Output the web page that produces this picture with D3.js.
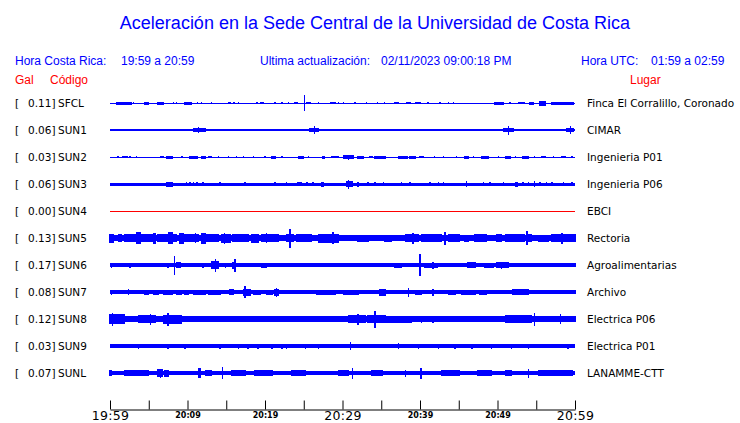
<!DOCTYPE html>
<html><head><meta charset="utf-8">
<script src="https://cdn.jsdelivr.net/npm/d3@7"></script>
<style>
html,body{margin:0;padding:0;background:#fff;}
svg{display:block;}
</style></head>
<body>
<script>
// ---------------- DATA ----------------
const stations = ["SFCL","SUN1","SUN2","SUN3","SUN4","SUN5","SUN6","SUN7","SUN8","SUN9","SUNL"];
const peakGal  = [0.11,0.06,0.03,0.06,0.00,0.13,0.17,0.08,0.12,0.03,0.07];
const places   = ["Finca El Corralillo, Coronado","CIMAR","Ingenieria P01","Ingenieria P06","EBCI","Rectoria","Agroalimentarias","Archivo","Electrica P06","Electrica P01","LANAMME-CTT"];
// background noise half-amplitude for each trace (arbitrary amplitude units)
const baseAmp  = [0.5,0.6,0.5,1.5,0,3.2,1.7,1.7,2.6,1.7,2.4];
// minutes after 19:59
const timeStart = "19:59", timeEnd = "20:59";
const tickMinutes = [0,5,10,15,20,25,30,35,40,45,50,55,60];
const tickLabels  = ["19:59","","20:09","","20:19","","20:29","","20:39","","20:49","","20:59"];
const bigLabels   = ["19:59","20:29","20:59"];

// bursts: [start minute, end minute, half amplitude]
const burstsSFCL = [[0.9,2.8,1.5],[3.0,3.0,1],[4.5,4.9,1.5],[6.2,6.9,1.5],[8.2,8.2,1],[8.6,8.6,1],[9.7,10.5,1.5],[11.3,11.3,1],[11.8,11.8,1],[13.1,13.1,1],[15.3,15.5,1],[16.0,16.0,1],[16.6,16.6,1.2],[18.9,19.0,1],[19.5,19.8,1],[21.3,21.3,1],[22.2,22.2,1],[23.0,23.0,1],[23.9,24.2,1.2],[25.1,25.1,8],[25.4,25.8,1.2],[26.9,26.9,1],[28.5,29.0,1.2],[29.5,29.5,1],[30.1,30.1,1],[31.6,31.6,1.2],[33.1,33.1,1],[34.5,34.5,1.2],[35.4,35.4,1],[36.8,37.2,1.2],[38.3,38.7,1.2],[39.4,40.0,1.2],[41.0,41.0,1],[42.6,42.6,1.2],[43.7,43.7,1],[44.3,44.3,1],[49.7,50.8,1.5],[51.6,51.6,1],[52.7,53.5,1.2],[54.2,54.6,1.5],[55.5,56.1,2.5],[57.0,59.8,1.5]];
const burstsSUN1 = [[0.1,1.1,1.4],[1.5,2.6,1.4],[2.8,3.2,1.3],[3.7,4.3,1.3],[4.7,6.0,1.4],[7.1,10.8,1.4],[10.8,12.3,2.0],[11.4,11.4,3],[12.3,15.3,1.4],[15.7,16.6,1.3],[17.4,20.4,1.4],[20.9,21.3,1.3],[22.6,24.3,1.4],[24.7,27.7,1.4],[25.8,26.9,2.2],[26.4,26.4,4],[29.0,30.3,1.4],[30.8,32.0,1.4],[32.9,33.8,1.4],[34.2,35.1,1.4],[36.8,38.1,1.4],[38.5,39.6,1.4],[40.0,40.9,1.4],[41.3,42.4,1.4],[42.8,43.4,1.4],[44.1,44.9,1.4],[45.4,46.7,1.4],[47.3,48.8,1.3],[49.5,50.5,1.4],[50.8,52.0,2.0],[51.4,51.4,4.5],[52.7,54.4,1.3],[54.8,57.0,1.3],[57.4,58.7,1.4],[58.9,59.8,2.0],[59.4,59.4,4]];
const burstsSUN2 = [[1.0,1.0,1.3],[1.7,2.2,1.3],[2.6,2.6,1.3],[3.4,3.4,1.3],[6.5,6.9,1.3],[7.3,8.0,1.5],[9.3,9.3,1.3],[10.3,11.2,1.5],[11.8,12.3,1.5],[12.8,13.1,1.3],[14.0,14.0,1.3],[15.3,15.3,1.3],[16.3,16.3,1.3],[17.2,17.2,1.3],[18.5,18.5,1.3],[20.0,20.0,1.3],[20.9,21.3,1.5],[22.2,22.2,1.3],[24.3,24.9,1.5],[25.6,25.6,1.3],[27.5,27.7,1.5],[28.6,29.5,1.3],[30.1,31.4,1.7],[30.8,30.8,2.5],[32.0,32.7,1.5],[33.5,33.8,1.3],[34.2,35.5,1.5],[37.2,38.3,1.5],[38.7,39.4,1.5],[40.0,40.4,1.3],[41.9,41.9,1.3],[43.0,43.0,1.3],[44.7,44.7,1.3],[45.8,46.2,1.5],[46.9,46.9,1.3],[48.0,48.8,1.5],[50.1,50.1,1.3],[51.0,51.6,1.5],[52.3,52.3,1.3],[53.3,54.0,1.5],[54.8,54.8,1.3],[55.7,56.1,1.3],[57.2,57.2,1.3],[58.3,58.7,1.3],[59.6,59.6,1.3]];
const burstsSUN3 = [[7.3,8.0,2.5],[9.9,9.9,2.3],[10.3,10.3,2.3],[10.8,10.8,2.3],[11.2,11.2,2.3],[12.0,12.0,2.3],[14.2,14.2,2.3],[17.4,17.4,2.3],[21.3,21.3,2.3],[22.8,22.8,2.3],[24.2,24.7,2.3],[25.4,25.4,2.3],[26.2,26.2,2.3],[27.3,27.5,2.5],[30.5,31.2,3.2],[30.8,30.8,4.5],[32.0,32.0,2.5],[33.3,33.3,2.3],[34.2,34.2,2.3],[35.3,35.3,2.3],[37.6,37.6,2.3],[38.7,38.7,2.3],[41.3,41.3,2.3],[42.4,42.4,2.3],[43.0,43.0,2.3],[46.0,46.0,3.3],[48.2,48.2,2.3],[49.0,49.0,2.3],[50.8,50.8,2.3],[52.3,52.5,2.5],[53.3,53.3,2.3],[54.0,54.0,2.3],[54.8,54.8,3],[55.5,55.5,2.3],[56.3,56.3,2.3],[57.0,57.0,2.3],[58.5,58.5,2.3],[59.6,59.6,2.3]];
const burstsSUN4 = [];
const burstsSUN5 = [[0,0.4,4.5],[1.1,1.5,4],[1.9,3.2,4],[3.4,3.9,6],[3.9,5.4,4.2],[5.6,5.8,5.5],[6.2,7.5,4],[7.6,8.0,6],[8.0,8.6,4.2],[9.0,9.5,5.5],[9.7,11.4,4.2],[11.0,11.0,5],[11.8,12.3,5.5],[12.3,14.0,4.2],[14.4,15.5,4.5],[14.8,14.8,5.5],[15.9,17.8,4.2],[18.3,19.1,4.5],[19.6,21.7,4],[20.2,20.2,5],[22.8,23.7,4.2],[23.2,23.2,9.5],[24.1,26.0,4.2],[26.9,29.5,4.5],[28.8,28.8,6],[32.0,33.3,3.5],[35.5,36.3,3.5],[38.1,39.8,4.2],[39.1,39.1,5.5],[40.2,42.8,4.2],[43.2,43.2,6.5],[43.7,45.0,4.2],[45.8,46.2,3.5],[47.1,48.6,4.2],[49.9,50.5,4],[51.0,53.5,4.2],[53.8,53.8,7],[54.0,54.4,4.2],[55.3,56.6,3.5],[57.0,60,4.2],[58.3,58.3,5.5]];
const burstsSUN6 = [[0.2,0.2,2.5],[2.6,2.6,2.5],[3.2,3.2,2.3],[4.0,4.0,2.3],[5.4,5.4,2.3],[7.0,7.0,2.3],[7.5,7.5,2.5],[8.3,8.3,9.5],[8.6,9.0,3],[12.0,12.0,2.5],[12.5,12.5,2.3],[13.1,14.0,4],[13.6,13.6,6.5],[14.9,14.9,2.5],[15.9,16.2,3.5],[16.1,16.1,6.5],[18.3,18.3,2.3],[19.6,20.2,2.5],[22.8,22.8,2.3],[24.1,24.1,2.3],[25.2,25.2,2.3],[26.2,26.2,2.3],[29.9,29.9,2.3],[30.5,30.5,2.3],[31.2,33.3,2.3],[34.5,35.0,2.3],[36.8,37.6,2.5],[38.5,38.5,2.3],[40.0,40.0,11],[40.6,42.2,2.5],[41.7,41.7,3.5],[44.5,44.5,2.3],[46.2,47.1,3],[48.4,49.5,2.5],[49.9,51.4,3],[50.5,50.5,3.5],[52.3,52.3,2.3],[53.5,55.7,2.2],[56.1,60,2.2]];
const burstsSUN7 = [[0.2,0.2,2.5],[2.4,2.4,3],[4.5,4.9,2.5],[5.6,6.2,2.5],[6.9,8.0,2.5],[8.6,9.2,2.5],[9.7,10.1,2.5],[10.8,12.3,2.5],[12.7,14.2,2.5],[15.5,15.9,3],[17.2,18.1,3.5],[17.4,17.4,6],[18.5,19.4,2.5],[20.2,20.9,2.5],[21.3,21.7,3.5],[21.5,21.5,4.5],[23.4,26.0,2.3],[26.7,29.0,2.5],[30.1,32.0,2.5],[34.8,35.5,3.5],[38.5,38.5,4.5],[39.4,40.2,2.5],[41.7,41.7,3.5],[43.7,44.5,2.5],[45.4,47.1,2.5],[47.7,48.6,2.5],[52.0,54.0,3],[54.6,60,2.3]];
const burstsSUN8 = [[0,1.9,5],[0.3,0.3,6.5],[1.9,3.7,3.3],[3.7,5.8,4.2],[5.2,5.2,5.5],[6.9,9.2,4.5],[7.5,7.5,6.5],[9.2,11.4,3.3],[12.3,14.0,3.3],[16.6,21.7,3],[22.6,26.0,3],[26.2,29.5,3.3],[30.8,32.9,4.2],[32.0,32.0,5.5],[33.3,35.5,4.2],[34.2,34.2,8.5],[35.5,38.9,3.5],[40.2,40.2,3.5],[41.7,41.7,3.5],[43.0,44.1,3.3],[45.4,48.8,3],[51.0,54.4,4],[54.8,54.8,6.5],[55.3,57.4,3],[58.1,58.1,5],[58.7,60,3.3]];
const burstsSUN9 = [[3.7,3.7,2.5],[7.5,7.5,2.5],[9.7,9.7,2.5],[14.2,14.2,2.5],[16.6,16.6,2.5],[17.8,17.8,2.5],[19.1,19.1,2.5],[20.9,20.9,2.5],[22.2,22.2,2.5],[22.8,22.8,2.5],[25.2,25.2,2.5],[26.9,26.9,2.5],[31.0,31.0,4],[37.2,37.2,3],[39.8,39.8,2.5],[42.4,42.4,2.5],[44.5,44.5,2.5],[46.7,46.7,2.5],[49.2,49.2,2.5],[51.8,51.8,2.5],[54.0,54.0,2.5],[59.1,59.1,2.5]];
const burstsSUNL = [[0,0.2,3],[1.9,4.9,3],[6.2,6.7,4],[6.5,6.5,4.5],[7.1,7.5,3.5],[11.4,11.6,5],[12.3,13.1,3],[14.5,14.5,6],[15.7,17.4,3],[18.7,20.9,3],[23.4,25.2,3],[29.5,30.8,3],[31.3,31.3,5.5],[33.8,35.1,3],[38.1,38.1,3.5],[40.1,40.1,5.5],[42.8,45.0,3],[47.5,49.2,3],[51.0,51.8,3],[54.0,54.0,4.5],[55.3,59.6,3]];
const bursts = [burstsSFCL,burstsSUN1,burstsSUN2,burstsSUN3,burstsSUN4,burstsSUN5,burstsSUN6,burstsSUN7,burstsSUN8,burstsSUN9,burstsSUNL];

// ---------------- DRAW ----------------
const W = 740, H = 423;
const blue = "#0000ff", red = "#ff0000";
const svg = d3.select("body").append("svg").attr("width", W).attr("height", H);

const x = d3.scaleLinear().domain([0, 60]).range([110, 575]);
const y = d3.scalePoint().domain(stations).range([103, 373]);
const amp = d3.scaleLinear().domain([0, 13.5]).range([0, 13.5]);

// title & headers
svg.append("text").attr("x", 375).attr("y", 29).attr("text-anchor", "middle")
  .attr("font-family", "Liberation Sans, Arial, sans-serif").attr("font-size", 18).attr("fill", blue)
  .text("Aceleración en la Sede Central de la Universidad de Costa Rica");

const hdr = svg.append("g").attr("font-family", "Liberation Sans, Arial, sans-serif").attr("font-size", 12).attr("fill", blue);
hdr.append("text").attr("x", 15).attr("y", 65).text("Hora Costa Rica:");
hdr.append("text").attr("x", 121).attr("y", 65).text(timeStart + " a " + timeEnd);
hdr.append("text").attr("x", 260).attr("y", 65).text("Ultima actualización:");
hdr.append("text").attr("x", 381).attr("y", 65).text("02/11/2023 09:00:18 PM");
hdr.append("text").attr("x", 581).attr("y", 65).text("Hora UTC:");
hdr.append("text").attr("x", 651).attr("y", 65).text("01:59 a 02:59");

const hdr2 = svg.append("g").attr("font-family", "Liberation Sans, Arial, sans-serif").attr("font-size", 12).attr("fill", red);
hdr2.append("text").attr("x", 15).attr("y", 84).text("Gal");
hdr2.append("text").attr("x", 50).attr("y", 84).text("Código");
hdr2.append("text").attr("x", 630).attr("y", 84).text("Lugar");

// left and right labels
const lab = svg.append("g").attr("font-family", "DejaVu Sans, sans-serif").attr("font-size", 10.5).attr("fill", "#000");
stations.forEach((s, i) => {
  const yy = y(s) + 4;
  lab.append("text").attr("x", 15).attr("y", yy).text("[");
  lab.append("text").attr("x", 55.5).attr("y", yy).attr("text-anchor", "end").text(peakGal[i].toFixed(2) + "]");
  lab.append("text").attr("x", 58).attr("y", yy).text(s);
  lab.append("text").attr("x", 587).attr("y", yy).text(places[i]);
});

// traces
const traces = svg.append("g").attr("shape-rendering", "crispEdges");
stations.forEach((s, i) => {
  const cy = y(s);
  const col = baseAmp[i] === 0 ? red : blue;
  const g = traces.append("g");
  g.append("rect").attr("x", x(0)).attr("width", x(60) - x(0))
    .attr("y", Math.round(cy) - Math.max(amp(baseAmp[i]), 0.5))
    .attr("height", Math.max(2 * amp(baseAmp[i]), 1))
    .attr("fill", col);
  g.selectAll("rect.b").data(bursts[i]).join("rect").attr("class", "b")
    .attr("x", d => x(d[0]) - 0.75)
    .attr("width", d => Math.max(x(d[1]) - x(d[0]), 0) + 1.5)
    .attr("y", d => Math.round(cy) - amp(d[2]))
    .attr("height", d => 2 * amp(d[2]))
    .attr("fill", col);
});

// time axis
const axis = d3.axisBottom(x).tickValues(tickMinutes).tickSizeInner(-9).tickSizeOuter(0)
  .tickFormat((d, i) => tickLabels[i]);
const ax = svg.append("g").attr("transform", "translate(0,409.5)").call(axis);
ax.select(".domain").attr("stroke", "#000");
ax.selectAll(".tick line").attr("stroke", "#000");
ax.selectAll(".tick text")
  .attr("fill", "#000")
  .attr("font-family", "DejaVu Sans, sans-serif")
  .attr("dy", null)
  .attr("y", function() { return bigLabels.includes(this.textContent) ? 10.5 : 8; })
  .attr("font-size", function() { return bigLabels.includes(this.textContent) ? 12.5 : 8; })
  .attr("letter-spacing", function() { return bigLabels.includes(this.textContent) ? 0.3 : 0; })
  .attr("font-weight", function() { return bigLabels.includes(this.textContent) ? "normal" : "bold"; });
</script>
</body></html>
